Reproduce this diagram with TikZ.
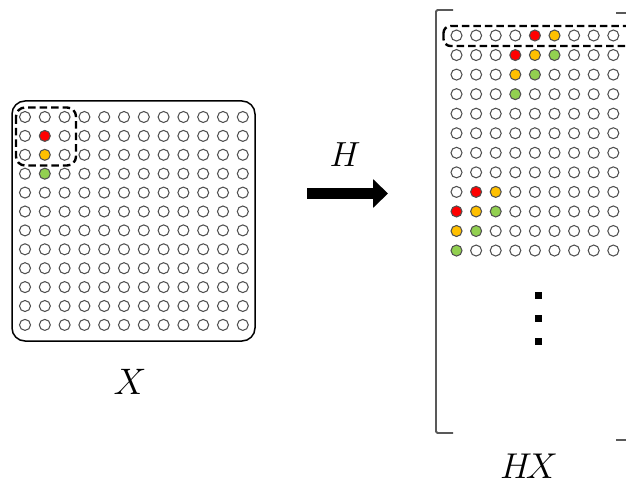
\documentclass[tikz,border=0pt]{standalone}
\usepackage{fix-cm}
\usetikzlibrary{arrows.meta}
\definecolor{cellred}{HTML}{FF0000}
\definecolor{cellamber}{HTML}{FFC000}
\definecolor{cellgreen}{HTML}{92D050}
\definecolor{rim}{HTML}{505050}
\definecolor{brk}{HTML}{595959}
% fill colour of a highlighted cell, looked up by the cell's name
\newcommand\setcell[2]{\expandafter\def\csname cellc@#1\endcsname{#2}}
% input X: one column of the 3x3 window
\setcell{L-1-1}{cellred}\setcell{L-1-2}{cellamber}\setcell{L-1-3}{cellgreen}
% output HX: shifted copies of the same column
\setcell{R-4-0}{cellred}\setcell{R-5-0}{cellamber}
\setcell{R-3-1}{cellred}\setcell{R-4-1}{cellamber}\setcell{R-5-1}{cellgreen}
\setcell{R-3-2}{cellamber}\setcell{R-4-2}{cellgreen}
\setcell{R-3-3}{cellgreen}
\setcell{R-1-8}{cellred}\setcell{R-2-8}{cellamber}
\setcell{R-0-9}{cellred}\setcell{R-1-9}{cellamber}\setcell{R-2-9}{cellgreen}
\setcell{R-0-10}{cellamber}\setcell{R-1-10}{cellgreen}
\setcell{R-0-11}{cellgreen}
\begin{document}
\begin{tikzpicture}[x=1bp,y=-1bp,
  cell/.style={circle,draw=rim,line width=1.05bp,inner sep=0pt,minimum size=11bp},
  frame/.style={draw,line width=1.5bp,rounded corners=13bp},
  window/.style={draw,line width=2.4bp,dash pattern=on 7.5bp off 4bp,rounded corners=9bp},
  bracket/.style={draw=brk,line width=1.8bp,rounded corners=1.5bp},
  dotmark/.style={fill=black,inner sep=0pt,minimum size=7bp},
  mathtag/.style={inner sep=0pt,font=\fontsize{37}{40}\selectfont},
  bigarrow/.style={line width=10.5bp,-{Triangle[length=15bp,width=28bp]}}]
\clip (0,0) rectangle (626,485);

% input matrix X
\draw[frame] (12,101) rectangle (255,341);
\foreach \i in {0,...,11}
  \foreach \j in {0,...,11}{
    \edef\cellcol{\ifcsname cellc@L-\i-\j\endcsname\csname cellc@L-\i-\j\endcsname\else white\fi}
    \node[cell,fill=\cellcol] (L-\i-\j) at ({25+19.8*\i},{117+18.9*\j}) {};
  }
\draw[window] (16,107.5) rectangle (76,165.5);
\node[mathtag] (Xtag) at (130,382) {$X$};

% operator arrow
\coordinate (arrowtail) at (307,193.5);
\coordinate (arrowtip) at (388,193.5);
\draw[bigarrow] (arrowtail) -- (arrowtip);
\node[mathtag,font=\fontsize{35}{38}\selectfont] (Htag) at (345,155) {$H$};

% output matrix HX
\draw[bracket] (453,10) -- (436,10) -- (436,433) -- (453,433);
\draw[bracket] (616,13) -- (640,13) -- (640,440) -- (616,440);
\foreach \i in {0,...,8}
  \foreach \j in {0,...,11}{
    \edef\cellcol{\ifcsname cellc@R-\i-\j\endcsname\csname cellc@R-\i-\j\endcsname\else white\fi}
    \node[cell,fill=\cellcol] (R-\i-\j) at ({456.5+19.6*\i},{35.5+19.55*\j}) {};
  }
\draw[window,rounded corners=7bp] (443.5,26) rectangle (640,46);
\node[dotmark] (vdot1) at (538,295) {};
\node[dotmark] (vdot2) at (538,318) {};
\node[dotmark] (vdot3) at (538,341) {};
\node[mathtag,font=\fontsize{36}{38}\selectfont] (HXtag) at (529,466) {$H\!X$};
\end{tikzpicture}
\end{document}
